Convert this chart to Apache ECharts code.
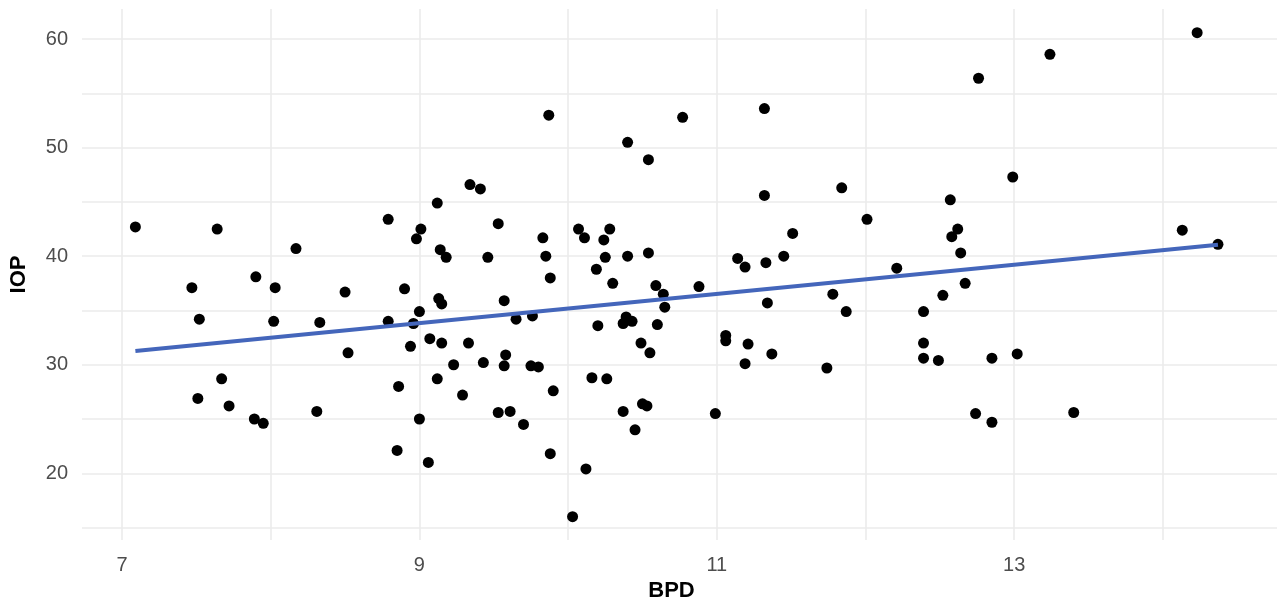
<!DOCTYPE html>
<html lang="en">
<head>
    <meta charset="utf-8">
    <title>BPD vs IOP</title>
    <script src="https://cdn.jsdelivr.net/npm/echarts@6/dist/echarts.min.js"></script>
    <style>
        html, body { margin: 0; padding: 0; background: #fff; }
        #main { width: 1277px; height: 607px; }
    </style>
</head>
<body>
    <div id="main"></div>
    <script type="text/javascript">
        // 数据：点 (BPD, IOP)
        var bpd = [
            7.09, 7.64, 8.17, 8.79, 9.01, 8.98, 9.12, 9.14, 9.18, 9.34,
            9.41, 9.46, 9.87, 10.77, 10.40, 10.54, 11.32, 11.32, 11.84, 12.01,
            9.53, 9.83, 9.85, 9.88, 10.07, 10.11, 10.28, 10.24, 10.25, 10.19,
            10.40, 10.54, 10.30, 10.59, 10.88, 11.14, 11.19, 11.33, 11.45, 11.51,
            11.78, 12.76, 13.24, 14.23, 12.99, 12.57, 12.62, 12.58, 12.64, 12.21,
            12.67, 14.13, 14.37, 7.47, 7.90, 8.03, 8.50, 8.90, 9.13, 9.15,
            9.00, 7.52, 8.02, 8.33, 8.79, 8.96, 8.94, 9.07, 9.15, 9.33,
            8.52, 9.23, 9.43, 7.67, 7.51, 7.72, 7.89, 7.95, 8.31, 8.86,
            9.12, 9.29, 9.00, 8.85, 9.06, 10.64, 10.65, 9.57, 9.65, 9.76,
            10.20, 10.39, 10.37, 10.43, 10.60, 10.49, 10.55, 11.34, 11.87, 11.06,
            11.06, 11.21, 11.37, 11.19, 11.74, 9.58, 9.57, 9.75, 9.80, 9.90,
            10.16, 10.26, 9.53, 9.61, 9.70, 10.37, 10.50, 10.53, 10.45, 10.99,
            9.88, 10.12, 10.03, 12.52, 12.39, 12.39, 12.39, 12.49, 12.85, 13.02,
            12.74, 12.85, 13.40
        ];
        var iop = [
            42.7, 42.5, 40.7, 43.4, 42.5, 41.6, 44.9, 40.6, 39.9, 46.6,
            46.2, 39.9, 53.0, 52.8, 50.5, 48.9, 53.6, 45.6, 46.3, 43.4,
            43.0, 41.7, 40.0, 38.0, 42.5, 41.7, 42.5, 41.5, 39.9, 38.8,
            40.0, 40.3, 37.5, 37.3, 37.2, 39.8, 39.0, 39.4, 40.0, 42.1,
            36.5, 56.4, 58.6, 60.6, 47.3, 45.2, 42.5, 41.8, 40.3, 38.9,
            37.5, 42.4, 41.1, 37.1, 38.1, 37.1, 36.7, 37.0, 36.1, 35.6,
            34.9, 34.2, 34.0, 33.9, 34.0, 33.8, 31.7, 32.4, 32.0, 32.0,
            31.1, 30.0, 30.2, 28.7, 26.9, 26.2, 25.0, 24.6, 25.7, 28.0,
            28.7, 27.2, 25.0, 22.1, 21.0, 36.5, 35.3, 35.9, 34.2, 34.5,
            33.6, 34.4, 33.8, 34.0, 33.7, 32.0, 31.1, 35.7, 34.9, 32.7,
            32.2, 31.9, 31.0, 30.1, 29.7, 30.9, 29.9, 29.9, 29.8, 27.6,
            28.8, 28.7, 25.6, 25.7, 24.5, 25.7, 26.4, 26.2, 24.0, 25.5,
            21.8, 20.4, 16.0, 36.4, 34.9, 32.0, 30.6, 30.4, 30.6, 31.0,
            25.5, 24.7, 25.6
        ];
        // 回归线两端
        var fitX = [7.09, 14.37];
        var fitY = [31.26, 41.05];
        // 刻度
        var xTicks = [7, 8, 9, 10, 11, 12, 13, 14];
        var xLabels = [7, 9, 11, 13];
        var yTicks = [15, 20, 25, 30, 35, 40, 45, 50, 55, 60];
        var yLabels = [20, 30, 40, 50, 60];

        var points = [];
        for (var i = 0; i < bpd.length; i++) {
            points.push([bpd[i], iop[i]]);
        }
        var fitLine = [];
        for (var j = 0; j < fitX.length; j++) {
            fitLine.push([fitX[j], fitY[j]]);
        }

        var myChart = echarts.init(document.getElementById('main'));
        myChart.setOption({
            animation: false,
            backgroundColor: '#ffffff',
            grid: {
                left: 82,
                right: 0,
                top: 9,
                bottom: 67,
                containLabel: false,
                outerBoundsMode: 'none'
            },
            xAxis: {
                type: 'value',
                min: 6.731,
                max: 14.767,
                name: 'BPD',
                nameLocation: 'middle',
                nameGap: 36,
                nameTextStyle: {
                    fontFamily: 'Liberation Sans',
                    fontSize: 22,
                    fontWeight: 'bold',
                    color: '#000',
                    padding: [0, 16, 0, 0]
                },
                axisLine: { show: false },
                axisTick: { show: false, customValues: xTicks },
                axisLabel: {
                    customValues: xLabels,
                    fontFamily: 'Liberation Sans',
                    fontSize: 20,
                    color: '#4d4d4d',
                    margin: 15
                },
                splitLine: {
                    show: true,
                    lineStyle: { color: '#ebebeb', width: 1.6 }
                }
            },
            yAxis: {
                type: 'value',
                min: 13.85,
                max: 62.78,
                name: 'IOP',
                nameLocation: 'middle',
                nameRotate: 90,
                nameGap: 52,
                nameTextStyle: {
                    fontFamily: 'Liberation Sans',
                    fontSize: 22,
                    fontWeight: 'bold',
                    color: '#000'
                },
                axisLine: { show: false },
                axisTick: { show: false, customValues: yTicks },
                axisLabel: {
                    customValues: yLabels,
                    fontFamily: 'Liberation Sans',
                    fontSize: 20,
                    color: '#4d4d4d',
                    margin: 14
                },
                splitLine: {
                    show: true,
                    lineStyle: { color: '#ebebeb', width: 1.6 }
                }
            },
            series: [{
                name: 'points',
                type: 'scatter',
                symbol: 'circle',
                symbolSize: 11,
                itemStyle: { color: '#000000', opacity: 1 },
                data: points,
                z: 2
            },
            {
                name: 'fit',
                type: 'line',
                showSymbol: false,
                symbol: 'none',
                lineStyle: { color: '#4466bb', width: 4 },
                data: fitLine,
                z: 3
            }]
        });
    </script>
</body>
</html>
